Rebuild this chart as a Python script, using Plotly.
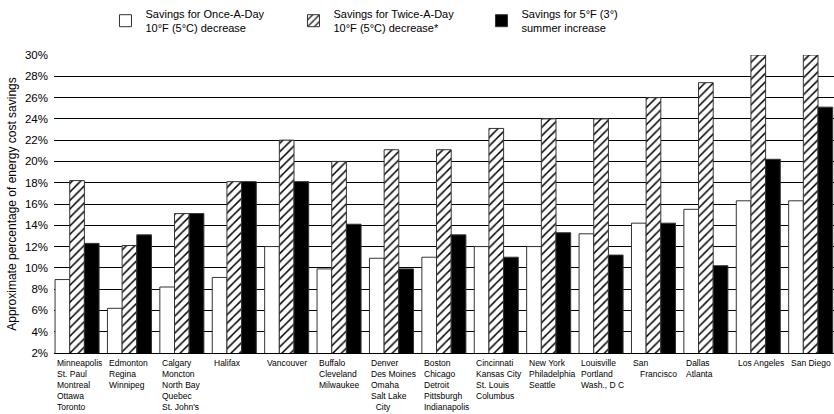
import plotly.graph_objects as go

# Data
cities = [
    "Minneapolis<br>St. Paul<br>Montreal<br>Ottawa<br>Toronto",
    "Edmonton<br>Regina<br>Winnipeg",
    "Calgary<br>Moncton<br>North Bay<br>Quebec<br>St. John's",
    "Halifax",
    "Vancouver",
    "Buffalo<br>Cleveland<br>Milwaukee",
    "Denver<br>Des Moines<br>Omaha<br>Salt Lake<br>\u00a0\u00a0City",
    "Boston<br>Chicago<br>Detroit<br>Pittsburgh<br>Indianapolis",
    "Cincinnati<br>Kansas City<br>St. Louis<br>Columbus",
    "New York<br>Philadelphia<br>Seattle",
    "Louisville<br>Portland<br>Wash., D C",
    "San<br>\u00a0\u00a0\u00a0Francisco",
    "Dallas<br>Atlanta",
    "Los Angeles",
    "San Diego",
]
once_a_day = [8.9, 6.2, 8.2, 9.1, 12.0, 9.9, 10.9, 11.0, 12.0, 12.0, 13.2, 14.2, 15.5, 16.3, 16.3]
twice_a_day = [18.2, 12.1, 15.1, 18.1, 22.0, 20.0, 21.1, 21.1, 23.1, 24.0, 24.0, 26.0, 27.4, 30.0, 30.0]
summer_increase = [12.3, 13.1, 15.1, 18.1, 18.1, 14.1, 9.9, 13.1, 11.0, 13.3, 11.2, 14.2, 10.2, 20.2, 25.1]
series_names = [
    "Savings for Once-A-Day<br>10°F (5°C) decrease",
    "Savings for Twice-A-Day<br>10°F (5°C) decrease*",
    "Savings for 5°F (3°)<br>summer increase",
]
y_ticks = list(range(2, 31, 2))
y_tick_text = [f"{v}%" for v in y_ticks]

xs = list(range(len(cities)))
FONT = "Liberation Sans, Arial, Helvetica, sans-serif"

fig = go.Figure()
fig.add_trace(go.Bar(
    x=xs, y=once_a_day, name=series_names[0],
    marker=dict(color="white", line=dict(color="#333", width=1)),
))
fig.add_trace(go.Bar(
    x=xs, y=twice_a_day, name=series_names[1],
    marker=dict(color="white", line=dict(color="#333", width=1),
                pattern=dict(shape="/", fgcolor="black", fgopacity=1,
                             bgcolor="white", size=6, solidity=0.25)),
))
fig.add_trace(go.Bar(
    x=xs, y=summer_increase, name=series_names[2],
    marker=dict(color="black", line=dict(color="#333", width=1)),
))

annotations = []
for i, c in enumerate(cities):
    annotations.append(dict(
        x=i - 0.42, y=0, xref="x", yref="paper",
        text=c, showarrow=False, xanchor="left", yanchor="top",
        align="left", yshift=-3,
        font=dict(family=FONT, size=8.5, color="black"),
    ))

fig.update_layout(
    width=834, height=414,
    margin=dict(l=54, r=0, t=55, b=61, autoexpand=False),
    paper_bgcolor="white", plot_bgcolor="white",
    barmode="group", bargap=0.16, bargroupgap=0,
    font=dict(family=FONT, color="black"),
    showlegend=True,
    legend=dict(
        orientation="h", x=0.066, y=1.044, xanchor="left", yanchor="bottom",
        entrywidth=143, font=dict(family=FONT, size=11, color="black"),
        traceorder="normal", bgcolor="rgba(0,0,0,0)",
    ),
    xaxis=dict(
        range=[-0.44, 14.445], showticklabels=False, ticks="",
        showgrid=False, zeroline=False, showline=True,
        linecolor="black", linewidth=1,
    ),
    yaxis=dict(
        range=[2, 30], tickvals=y_ticks, ticktext=y_tick_text,
        showgrid=True, gridcolor="black", gridwidth=1,
        zeroline=False, showline=False, ticks="",
        ticklabelstandoff=5,
        tickfont=dict(family=FONT, size=11.5, color="black"),
        title=dict(text="Approximate percentage of energy cost savings",
                   font=dict(family=FONT, size=12, color="black"), standoff=5),
    ),
    annotations=annotations,
)

fig.write_html("out.html", config={"displayModeBar": False},
               post_script="document.body.style.margin='0px';")
